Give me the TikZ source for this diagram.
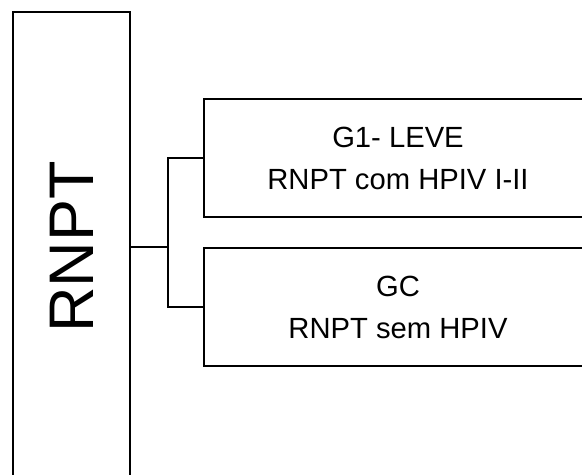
\documentclass[tikz,border=0pt]{standalone}
\usepackage{fontspec}
\setmainfont{Liberation Sans}

\begin{document}
\begin{tikzpicture}[x = 0.5pt, y = -0.5pt]
\tikzstyle{RootStyle}=[
draw,
line width = 1.2pt,
minimum width = 58.5pt,
minimum height = 235pt,
inner sep = 0pt,
font = \fontsize{31.5}{36}\selectfont]
\tikzstyle{GroupStyle}=[
draw,
line width = 1.2pt,
minimum width = 194pt,
minimum height = 59pt,
align = center,
font = \fontsize{14.6}{21}\selectfont]
\clip (0, 0) rectangle (582, 475);
\node[RootStyle] (rnpt) at (71.5, 247) {\rotatebox{90}{RNPT}\hspace{3pt}};
\node[GroupStyle] (g1) at (398, 158) {G1- LEVE\\RNPT com HPIV I-II};
\node[GroupStyle] (gc) at (398, 307) {GC\\RNPT sem HPIV};
\coordinate (split) at (168, 247);
\draw[line width = 1.2pt] (rnpt.east) -- (split);
\draw[line width = 1.2pt] (g1.west) -| (split) |- (gc.west);
\end{tikzpicture}
\end{document}
